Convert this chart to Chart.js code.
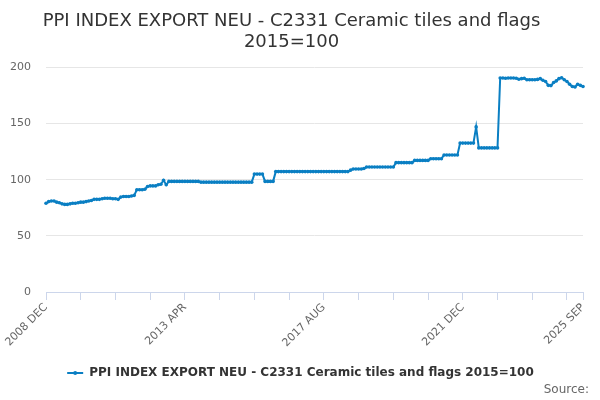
<!DOCTYPE html>
<html>
<head>
<meta charset="utf-8">
<script src="https://cdn.jsdelivr.net/npm/chart.js@4"></script>
<style>
html,body{margin:0;padding:0;background:#fff;}
#wrap{width:600px;height:400px;position:relative;}
</style>
</head>
<body>
<div id="wrap"><canvas id="c" width="600" height="400"></canvas></div>
<script>
const startYear = 2008;
const startMonth = 11; // December (0-based)
const monthNames = ['JAN','FEB','MAR','APR','MAY','JUN','JUL','AUG','SEP','OCT','NOV','DEC'];
const seriesName = 'PPI INDEX EXPORT NEU - C2331 Ceramic tiles and flags 2015=100';
const titleLines = ['PPI INDEX EXPORT NEU - C2331 Ceramic tiles and flags', '2015=100'];
const sourceText = 'Source:';
const yTicks = [0, 50, 100, 150, 200];
const values = [
79,80.5,81,81,80,79.5,78.5,78,78,78.5,
79,79,79.5,80,80,80.5,81,81.5,82.5,82.5,
82.5,83,83.5,83.5,83.5,83,83,82.5,84.5,85,
85,85,85.5,86,
91,91,91,91.5,
94,94.5,94.5,94.5,95.5,
96,99.5,95.5,
98.5,98.5,98.5,98.5,98.5,98.5,98.5,98.5,98.5,98.5,98.5,98.5,
97.8,97.8,97.8,97.8,97.8,97.8,97.8,97.8,97.8,97.8,
97.8,97.8,97.8,97.8,97.8,97.8,97.8,97.8,97.8,97.8,
105,105,105,105,
98.5,98.5,98.5,98.5,
107.2,107.2,107.2,107.2,107.2,107.2,107.2,107.2,107.2,107.2,
107.2,107.2,107.2,107.2,107.2,107.2,107.2,107.2,107.2,107.2,
107.2,107.2,107.2,107.2,107.2,107.2,107.2,107.2,
108.5,109.5,109.5,109.5,109.5,110,
111.3,111.3,111.3,111.3,111.3,111.3,111.3,111.3,111.3,111.3,111.3,
115.2,115.2,115.2,115.2,115.2,115.2,115.2,
117.2,117.2,117.2,117.2,117.2,117.2,
118.7,118.7,118.7,118.7,118.7,
122,122,122,122,122,122,
132.6,132.6,132.6,132.6,132.6,132.6,
147,
128.3,128.3,128.3,128.3,128.3,128.3,128.3,128.3,
190.5,190.5,190.3,190.5,190.5,190.5,190.4,189.5,190,190.3,
189,189,189,189,189.3,190,188.5,187.5,184,183.8,
186.5,188,190,190.8,189,187.5,185,183,182.5,185,
184,183
];

const labels = [];
for (let i = 0; i < values.length; i++) {
  const m = startMonth + i;
  labels.push((startYear + Math.floor(m / 12)) + ' ' + monthNames[m % 12]);
}
const lastIdx = labels.length - 1;
const color = '#0a7fc3';
const font = "'DejaVu Sans', sans-serif";

const extras = {
  id: 'extras',
  afterLayout(chart) {
    const lg = chart.legend;
    if (lg) { lg.left += 9; lg.right += 9; }
  },
  afterDraw(chart) {
    const ctx = chart.ctx;
    const lg = chart.legend;
    if (lg && lg.legendHitBoxes && lg.legendHitBoxes.length) {
      const hb = lg.legendHitBoxes[0];
      const bw = lg.options.labels.boxWidth;
      ctx.save();
      ctx.fillStyle = color;
      ctx.beginPath();
      ctx.arc(hb.left + bw / 2, hb.top + hb.height / 2, 2, 0, Math.PI * 2);
      ctx.fill();
      ctx.restore();
    }
    ctx.save();
    ctx.font = "12px " + font;
    ctx.fillStyle = '#666666';
    ctx.textAlign = 'right';
    ctx.textBaseline = 'middle';
    ctx.fillText(sourceText, 589, 390);
    ctx.restore();
  }
};

new Chart(document.getElementById('c'), {
  type: 'line',
  data: {
    labels: labels,
    datasets: [{
      label: seriesName,
      data: values,
      borderColor: color,
      backgroundColor: color,
      borderWidth: 2,
      pointRadius: 1.8,
      pointHoverRadius: 2,
      pointBorderWidth: 0,
      tension: 0
    }]
  },
  options: {
    responsive: false,
    animation: false,
    layout: { padding: { left: 0, right: 17, top: 11, bottom: 11 } },
    plugins: {
      title: {
        display: true,
        text: titleLines,
        color: '#333333',
        font: { family: font, size: 18, weight: 'normal', lineHeight: 1.15 },
        padding: { top: 0, bottom: 15 }
      },
      legend: {
        position: 'bottom',
        labels: {
          color: '#333333',
          font: { family: font, size: 12, weight: 'bold' },
          boxWidth: 16,
          padding: 4,
          generateLabels: (chart) => [{
            text: seriesName,
            fillStyle: color,
            strokeStyle: color,
            lineWidth: 2,
            pointStyle: 'line',
            hidden: false,
            datasetIndex: 0,
            fontColor: '#333333'
          }],
          usePointStyle: true,
          pointStyleWidth: 16
        }
      },
      tooltip: { enabled: false }
    },
    scales: {
      x: {
        type: 'category',
        offset: false,
        border: { display: true, color: '#ccd6eb', width: 1 },
        grid: {
          drawOnChartArea: false,
          drawTicks: true,
          tickLength: 8,
          color: (ctx) => (ctx.index % 13 === 0 || ctx.index === lastIdx) ? '#ccd6eb' : 'rgba(0,0,0,0)'
        },
        ticks: {
          autoSkip: false,
          maxRotation: 45,
          minRotation: 45,
          color: '#666666',
          font: { family: font, size: 11 },
          padding: 1,
          callback: function(val, idx) {
            return (idx % 52 === 0 || idx === lastIdx) ? labels[idx] : '';
          }
        },
        afterFit: (scale) => { scale.height = 71; }
      },
      y: {
        min: 0,
        max: 200,
        afterBuildTicks: (scale) => { scale.ticks = yTicks.map(v => ({ value: v })); },
        border: { display: false },
        grid: { color: '#e6e6e6', drawTicks: false },
        ticks: {
          color: '#666666',
          font: { family: font, size: 11 },
          padding: 15
        },
        afterFit: (scale) => { scale.width = 46; }
      }
    }
  },
  plugins: [extras]
});
</script>
</body>
</html>
